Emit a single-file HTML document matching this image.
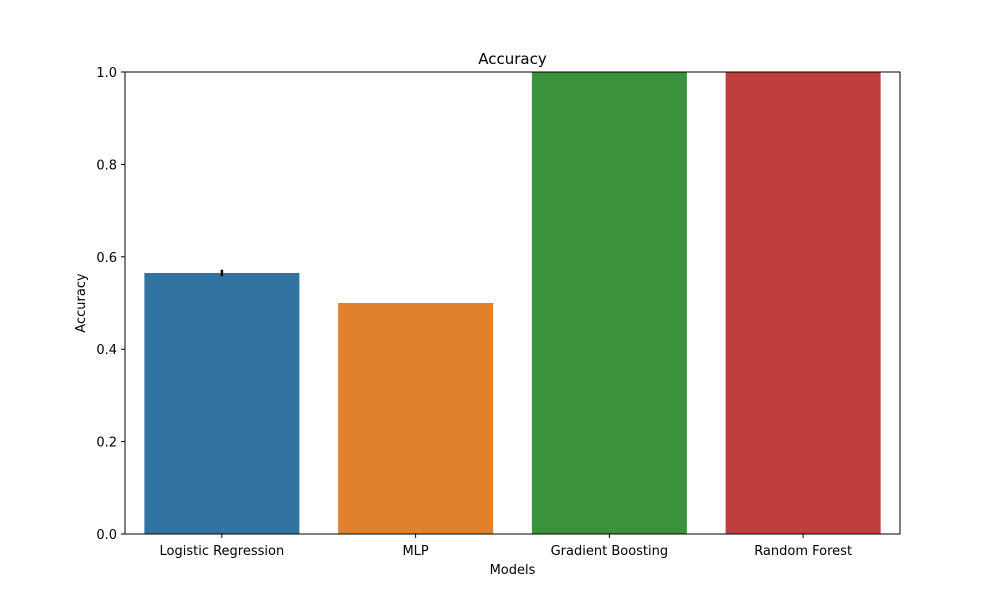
<!DOCTYPE html>
<html><head><meta charset="utf-8"><style>
body{margin:0;background:#fff}
svg text{font-family:"DejaVu Sans","Liberation Sans",sans-serif;font-size:13px;fill:#000}
</style></head><body>
<svg id="chart" width="1000" height="600"></svg>
<script>
const categories=["Logistic Regression","MLP","Gradient Boosting","Random Forest"];
const values=[0.565,0.5,1.0,1.0];
const errLow=[0.558,0.5,1.0,1.0];
const errHigh=[0.572,0.5,1.0,1.0];
const colors=["#3274a1","#e1812c","#3a923a","#c03d3e"];
const yTicks=[0,0.2,0.4,0.6,0.8,1.0];
const yTickLabels=["0.0","0.2","0.4","0.6","0.8","1.0"];
const NS="http://www.w3.org/2000/svg";
const svg=document.getElementById('chart');
const L=125,R=900,T=72,B=534;
const bw=(R-L)/categories.length;
const y=v=>B-(B-T)*v;
const xc=i=>L+bw*(i+0.5);
function mk(t,a,txt){const e=document.createElementNS(NS,t);for(const k in a)e.setAttribute(k,a[k]);if(txt!=null)e.textContent=txt;svg.appendChild(e);return e;}
values.forEach((v,i)=>{
 const r=mk('rect',{x:xc(i)-bw*0.4,y:y(v),width:bw*0.8,height:B-y(v),fill:colors[i]});
 
 
 if(errHigh[i]>errLow[i]){
  const l=mk('line',{x1:xc(i),x2:xc(i),y1:y(errHigh[i]),y2:y(errLow[i]),stroke:'#000','stroke-width':2.5});
  
  
 }
 const tk=mk('line',{x1:xc(i),x2:xc(i),y1:B,y2:B+4,stroke:'#000'});
 
 
 const t=mk('text',{x:xc(i),y:B+21,'text-anchor':'middle'},categories[i]);
 
 
});
yTicks.forEach((v,i)=>{
 const tk=mk('line',{x1:L-4,x2:L,y1:y(v),y2:y(v),stroke:'#000'});
 
 
 const t=mk('text',{x:L-8,y:y(v)+5,'text-anchor':'end'},yTickLabels[i]);
 
 
});
const f=mk('rect',{x:L,y:T,width:R-L,height:B-T,fill:'none',stroke:'#000','stroke-width':1});


const ti=mk('text',{x:(L+R)/2,y:T-8,'text-anchor':'middle','font-size':'15'},'Accuracy');


ti.style.fontSize='15px';
const xl=mk('text',{x:(L+R)/2,y:574,'text-anchor':'middle'},'Models');


const yl=mk('text',{x:85,y:(T+B)/2,'text-anchor':'middle',transform:`rotate(-90 85 ${(T+B)/2})`},'Accuracy');


</script>
</body></html>
